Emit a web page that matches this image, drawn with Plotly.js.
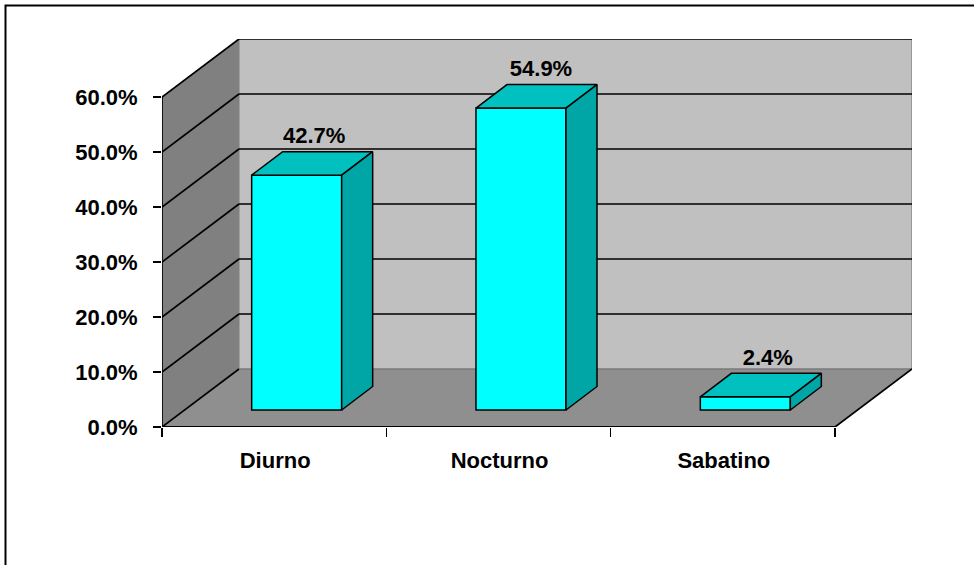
<!DOCTYPE html>
<html><head><meta charset="utf-8">
<script src="https://cdn.plot.ly/plotly-3.0.1.min.js"></script>
<style>html,body{margin:0;padding:0;background:#fff;overflow:hidden}</style>
</head><body><div id="chart" style="width:974px;height:565px"></div>
<script>
const categories = ["Diurno", "Nocturno", "Sabatino"];
const percentages = [42.7, 54.9, 2.4];
const valueLabels = ["42.7%", "54.9%", "2.4%"];
const yTicks = [0, 10, 20, 30, 40, 50, 60];
const yTickLabels = ["0.0%", "10.0%", "20.0%", "30.0%", "40.0%", "50.0%", "60.0%"];

const fontFam = "'Liberation Sans', Arial, sans-serif";
// pseudo-3D projection, in axis units
const PX = 673 / 3, PY = 5.5;
const wallDX = 77 / PX, wallDY = 58 / PY;
const barDX = 22.5 / PX, barDY = 17 / PY;     // front face offset from the front edge
const depthDX = 31 / PX, depthDY = 23.5 / PY; // bar depth
const barW = 90 / PX;
const n = categories.length;
const centers = categories.map((_, i) => i + 0.5);
const front = centers.map(c => c + barDX);

const topFaces = {x: [], y: []}, sideFaces = {x: [], y: []};
percentages.forEach((v, i) => {
  const l = front[i] - barW / 2, r = front[i] + barW / 2, b = barDY, t = barDY + v;
  topFaces.x.push(l, r, r + depthDX, l + depthDX, l, null);
  topFaces.y.push(t, t, t + depthDY, t + depthDY, t, null);
  sideFaces.x.push(r, r + depthDX, r + depthDX, r, r, null);
  sideFaces.y.push(b, b + depthDY, t + depthDY, t, b, null);
});

const traces = [
  {type: "bar", x: front, y: percentages, base: percentages.map(() => barDY), width: barW,
   marker: {color: "#00FFFF", line: {color: "#000", width: 1.5}}, hoverinfo: "skip"},
  {type: "scatter", mode: "lines", x: topFaces.x, y: topFaces.y, fill: "toself", fillcolor: "#00C0C0",
   line: {color: "#000", width: 1.5}, hoverinfo: "skip"},
  {type: "scatter", mode: "lines", x: sideFaces.x, y: sideFaces.y, fill: "toself", fillcolor: "#00A5A5",
   line: {color: "#000", width: 1.5}, hoverinfo: "skip"},
  {type: "scatter", mode: "text", x: front.map((f, i) => f + depthDX / 2 + (2 + 2.5 * i) / PX),
   y: percentages.map(v => v + barDY + depthDY + 0.5), text: valueLabels, textposition: "top center",
   textfont: {family: fontFam, size: 22, weight: 700, color: "#000"}, cliponaxis: false, hoverinfo: "skip"}
];

const seg = (x0, y0, x1, y1, color, width) => ({type: "line", xref: "x", yref: "y", layer: "below",
  x0, y0, x1, y1, line: {color, width}});
const poly = (pts, fill) => ({type: "path", xref: "x", yref: "y", layer: "below",
  path: "M" + pts.map(p => p.join(",")).join("L") + "Z", fillcolor: fill, line: {width: 0}});

const yMax = yTicks[yTicks.length - 1];
const shapes = [
  poly([[wallDX, wallDY], [n + wallDX, wallDY], [n + wallDX, yMax + wallDY], [wallDX, yMax + wallDY]], "#C0C0C0"),
  poly([[0, 0], [wallDX, wallDY], [wallDX, yMax + wallDY], [0, yMax]], "#808080"),
  poly([[0, 0], [n, 0], [n + wallDX, wallDY], [wallDX, wallDY]], "#8F8F8F"),
  seg(n + wallDX, wallDY, n + wallDX, yMax + wallDY, "#8A8A8A", 1.5),
  seg(wallDX, wallDY, n + wallDX, wallDY, "#7A7A7A", 1.5),
  seg(wallDX, wallDY, wallDX, yMax + wallDY, "#808080", 1)
];
yTicks.slice(1).forEach(t => {
  shapes.push(seg(0, t, wallDX, t + wallDY, "#000", 1.7));
  shapes.push(seg(wallDX, t + wallDY, n + wallDX, t + wallDY, "#000", 1.7));
});
shapes.push(seg(0, 0, wallDX, wallDY, "#000", 1.7));
shapes.push(seg(n, 0, n + wallDX, wallDY, "#000", 1.7));
shapes.push(seg(0, 0, 0, yMax, "#000", 1.7));
shapes.push(seg(0, 0, n, 0, "#000", 2));
// outer chart frame, cut off by the picture at the right and bottom
const W = 750, H = 388;
shapes.push({type: "path", xref: "paper", yref: "paper",
  path: `M${(5.5 - 162) / W},${(427 - 565) / H}L${(5.5 - 162) / W},${(427 - 5.5) / H}L${(974 - 162) / W},${(427 - 5.5) / H}`,
  line: {color: "#000", width: 2}});

Plotly.newPlot("chart", traces, {
  width: 974, height: 565, showlegend: false, barmode: "overlay",
  paper_bgcolor: "#fff", plot_bgcolor: "#fff",
  margin: {l: 162, r: 62, t: 39, b: 138, pad: 0},
  font: {family: fontFam, color: "#000"},
  xaxis: {range: [0, n + wallDX], tickmode: "array", tickvals: centers.map(c => c + 1 / PX), ticktext: categories,
    ticks: "", showgrid: false, zeroline: false, showline: false, ticklabelstandoff: 18,
    tickfont: {family: fontFam, size: 22, weight: 700, color: "#000"},
    minor: {tickmode: "array", tickvals: [0, 1, 2, 3], ticks: "outside", ticklen: 9, tickwidth: 1.5, tickcolor: "#000", showgrid: false}},
  yaxis: {range: [0, yMax + wallDY], tickmode: "array", tickvals: yTicks, ticktext: yTickLabels,
    ticks: "outside", ticklen: 8, tickwidth: 1.5, tickcolor: "#000", showgrid: false, zeroline: false, showline: false,
    ticklabelstandoff: 11, tickfont: {family: fontFam, size: 22, weight: 700, color: "#000"}},
  shapes
}, {displayModeBar: false, staticPlot: true});
</script></body></html>
